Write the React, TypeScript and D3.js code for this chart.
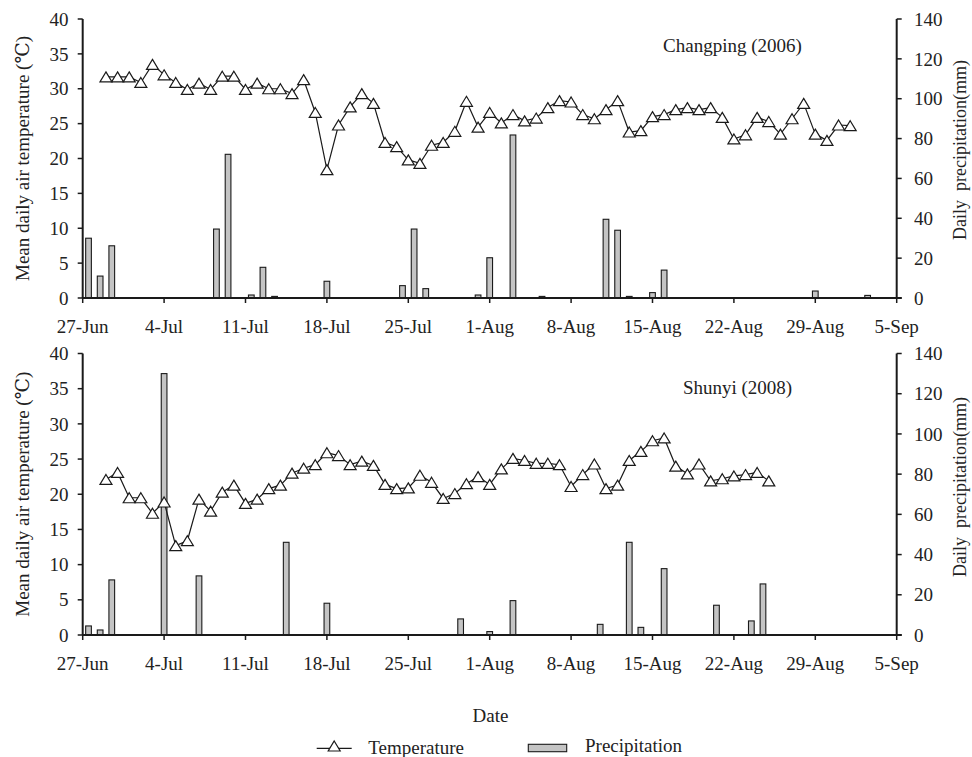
import React from "react";
import * as d3 from "d3";

// ---- data ----
const tickLabels = ["27-Jun", "4-Jul", "11-Jul", "18-Jul", "25-Jul", "1-Aug", "8-Aug", "15-Aug", "22-Aug", "29-Aug", "5-Sep"];
const tickDays = [0, 7, 14, 21, 28, 35, 42, 49, 56, 63, 70];
const tempTicks = [0, 5, 10, 15, 20, 25, 30, 35, 40];
const precTicks = [0, 20, 40, 60, 80, 100, 120, 140];

// Changping 2006 (day offset from 27-Jun)
const cpTempStartDay = 2;
const cpTemp = [31.7, 31.7, 31.7, 30.9, 33.5, 32.0, 30.9, 29.9, 30.8, 29.9, 31.8, 31.8, 29.9, 30.8, 30.0, 30.0, 29.3, 31.3, 26.6, 18.4, 24.8, 27.4, 29.3, 27.9, 22.3, 21.7, 19.8, 19.3, 21.9, 22.3, 23.9, 28.2, 24.5, 26.6, 25.1, 26.3, 25.4, 25.8, 27.3, 28.3, 28.1, 26.3, 25.7, 27.0, 28.3, 23.8, 24.0, 26.0, 26.3, 27.0, 27.3, 27.0, 27.3, 25.9, 22.8, 23.4, 25.9, 25.3, 23.5, 25.7, 27.9, 23.5, 22.6, 24.8, 24.7];
const cpPrecDays = [0.5, 1.5, 2.5, 11.5, 12.5, 14.5, 15.5, 16.5, 21, 27.5, 28.5, 29.5, 34, 35, 37, 39.5, 45, 46, 47, 49, 50, 63, 67.5];
const cpPrec = [30, 11, 26.2, 34.6, 72.1, 1.5, 15.4, 0.8, 8.4, 6.2, 34.6, 4.7, 1.5, 20.2, 81.8, 0.8, 39.5, 34, 0.8, 2.7, 14, 3.5, 1.3];

// Shunyi 2008
const syTempStartDay = 2;
const syTemp = [22.1, 23.1, 19.5, 19.5, 17.3, 18.9, 12.7, 13.4, 19.3, 17.6, 20.3, 21.3, 18.7, 19.3, 20.8, 21.3, 23.0, 23.7, 24.2, 25.9, 25.5, 24.2, 24.7, 24.1, 21.4, 20.8, 20.9, 22.7, 21.7, 19.4, 20.1, 21.5, 22.5, 21.4, 23.6, 25.1, 24.8, 24.4, 24.4, 24.2, 21.1, 22.8, 24.3, 20.8, 21.3, 24.8, 26.1, 27.6, 28.0, 24.0, 22.9, 24.3, 21.9, 22.2, 22.6, 22.8, 23.1, 21.9];
const syPrecDays = [0.5, 1.5, 2.5, 7, 10, 17.5, 21, 32.5, 35, 37, 44.5, 47, 48, 50, 54.5, 57.5, 58.5];
const syPrec = [4.5, 2.5, 27.4, 130, 29.4, 46.1, 15.8, 8.0, 1.7, 17.1, 5.3, 46.1, 3.8, 33.0, 14.8, 7.0, 25.4];

const FONT = "Liberation Serif, DejaVu Serif, serif";
const FS = 19;

const x = d3.scaleLinear().domain([0, 70]).range([82.7, 896.7]);
const barW = (x(1) - x(0)) * 0.49;
const TRI = "M0,-5L6,5L-6,5Z";

type PanelProps = {
  top: number;
  bottom: number;
  title: string;
  titleX: number;
  titleY: number;
  temp: number[];
  tempStart: number;
  precDays: number[];
  prec: number[];
  rightLabelY: number;
};

function Panel(p: PanelProps) {
  const yT = d3.scaleLinear().domain([0, 40]).range([p.bottom, p.top]);
  const yP = d3.scaleLinear().domain([0, 140]).range([p.bottom, p.top]);
  const pts = p.temp.map((v, i) => [x(p.tempStart + i), yT(v)] as [number, number]);
  const line = d3.line()(pts) || "";
  const x0 = x(0);
  const x1 = x(70);
  const midY = (p.top + p.bottom) / 2;
  return (
    <g>
      {p.prec.map((v, i) => (
        <rect
          key={"b" + i}
          x={x(p.precDays[i]) - barW / 2}
          y={yP(v)}
          width={barW}
          height={p.bottom - yP(v)}
          fill="#c4c4c4"
          stroke="#1a1a1a"
          strokeWidth={1.1}
        />
      ))}
      <path d={line} fill="none" stroke="#1a1a1a" strokeWidth={1.2} />
      {pts.map((pt, i) => (
        <path key={"t" + i} d={TRI} transform={`translate(${pt[0]},${pt[1]})`} fill="#fff" stroke="#1a1a1a" strokeWidth={1.2} />
      ))}
      <line x1={x0} x2={x0} y1={p.top} y2={p.bottom} stroke="#1a1a1a" strokeWidth={2} />
      <line x1={x1} x2={x1} y1={p.top} y2={p.bottom} stroke="#1a1a1a" strokeWidth={2} />
      <line x1={x0} x2={x1 + 5} y1={p.bottom} y2={p.bottom} stroke="#1a1a1a" strokeWidth={2} />
      {tempTicks.map((t) => (
        <g key={"lt" + t}>
          <line x1={x0 - 5} x2={x0} y1={yT(t)} y2={yT(t)} stroke="#1a1a1a" strokeWidth={1.5} />
          <text x={68.5} y={yT(t)} dy="0.35em" textAnchor="end" fontSize={FS} fontFamily={FONT} fill="#222">{t}</text>
        </g>
      ))}
      {precTicks.map((t) => (
        <g key={"rt" + t}>
          <line x1={x1} x2={x1 + 5} y1={yP(t)} y2={yP(t)} stroke="#1a1a1a" strokeWidth={1.5} />
          <text x={914} y={yP(t)} dy="0.35em" textAnchor="start" fontSize={FS} fontFamily={FONT} fill="#222">{t}</text>
        </g>
      ))}
      {tickDays.map((d, i) => (
        <g key={"xt" + d}>
          <line x1={x(d)} x2={x(d)} y1={p.bottom} y2={p.bottom + 5} stroke="#1a1a1a" strokeWidth={1.5} />
          <text x={x(d)} y={p.bottom + 35} textAnchor="middle" fontSize={FS} fontFamily={FONT} fill="#222">{tickLabels[i]}</text>
        </g>
      ))}
      <text x={p.titleX} y={p.titleY} textAnchor="middle" fontSize={FS} fontFamily={FONT} fill="#222">{p.title}</text>
      <text
        transform={`translate(22.5,${midY}) rotate(-90)`}
        textAnchor="middle"
        dy="0.35em"
        fontSize={FS}
        fontFamily={FONT}
        fill="#222"
      >
        Mean daily air temperature (℃)
      </text>
      <text
        transform={`translate(960,${p.rightLabelY}) rotate(-90)`}
        textAnchor="middle"
        dy="0.35em"
        fontSize={18}
        fontFamily={FONT}
        fill="#222"
        style={{ whiteSpace: "pre" }}
      >
        {"Daily  precipitation(mm)"}
      </text>
    </g>
  );
}

export default function App() {
  return (
    <svg width={972} height={757} style={{ position: "absolute", left: 0, top: 0, background: "#fff" }}>
      <rect width={972} height={757} fill="#fff" />
      <Panel top={19} bottom={298} title="Changping (2006)" titleX={732.5} titleY={52} temp={cpTemp} tempStart={cpTempStartDay} precDays={cpPrecDays} prec={cpPrec} rightLabelY={150} />
      <Panel top={353.5} bottom={635} title="Shunyi (2008)" titleX={737.5} titleY={394} temp={syTemp} tempStart={syTempStartDay} precDays={syPrecDays} prec={syPrec} rightLabelY={487} />
      <text x={490.5} y={722} textAnchor="middle" fontSize={FS} fontFamily={FONT} fill="#222">Date</text>
      <line x1={316.7} x2={351.7} y1={748.3} y2={748.3} stroke="#1a1a1a" strokeWidth={1.2} />
      <path d={TRI} transform="translate(334.2,746)" fill="#fff" stroke="#1a1a1a" strokeWidth={1.2} />
      <text x={368.3} y={754} fontSize={FS} fontFamily={FONT} fill="#222">Temperature</text>
      <rect x={528.3} y={744.3} width={38.4} height={7.4} fill="#c4c4c4" stroke="#1a1a1a" strokeWidth={1.1} />
      <text x={585} y={752} fontSize={FS} fontFamily={FONT} fill="#222">Precipitation</text>
    </svg>
  );
}
